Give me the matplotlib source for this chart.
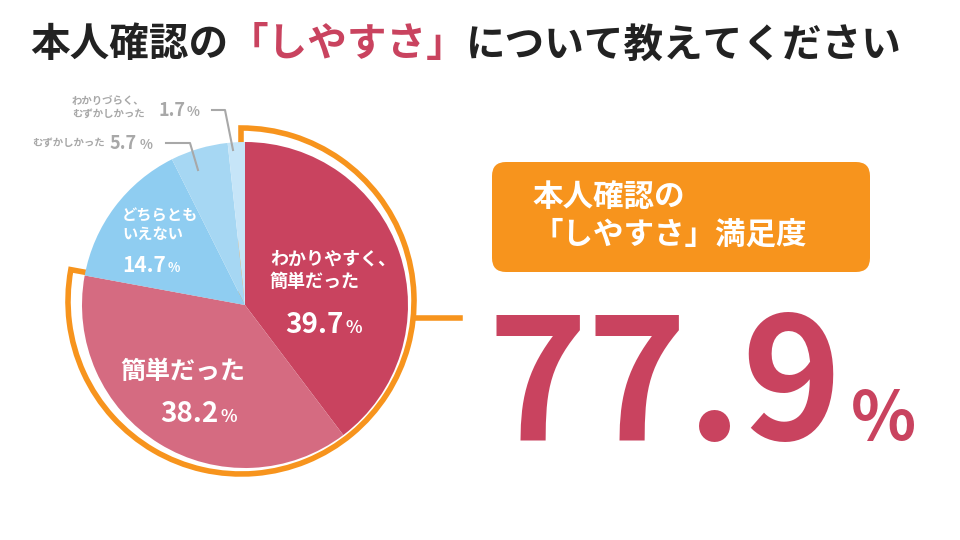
import matplotlib
matplotlib.use("Agg")
import matplotlib.pyplot as plt
from matplotlib.patches import Wedge, FancyBboxPatch

plt.rcParams["font.family"] = ["Noto Sans CJK JP", "DejaVu Sans"]

RED = "#C9435F"
PINK = "#D56B81"
ORANGE = "#F7941D"
GRAY = "#A8A8A8"

labels = ["わかりやすく、\n簡単だった", "簡単だった", "どちらとも\nいえない", "むずかしかった", "わかりづらく、\nむずかしかった"]
values = [39.7, 38.2, 14.7, 5.7, 1.7]
colors = [RED, PINK, "#8FCDF1", "#A6D7F3", "#C6E5F8"]
satisfaction = "77.9"

fig = plt.figure(figsize=(9.6, 5.4), dpi=100)
ax = fig.add_axes([0, 0, 1, 1])
H = 540
cx, cy, r = 245, H - 305, 163

sat = values[0] + values[1]
ax.add_patch(Wedge((cx - 4, cy + 4), r + 10, 90 - 3.6 * sat, 90, facecolor="white",
                   edgecolor=ORANGE, linewidth=4, zorder=1))
ax.pie(values, colors=colors, startangle=90, counterclock=False, center=(cx, cy), radius=r,
       wedgeprops=dict(linewidth=0), frame=True)
ax.set_xlim(0, 960)
ax.set_ylim(0, 540)
ax.axis("off")
ax.plot([cx + r + 6, 460], [H - 318, H - 318], color=ORANGE, lw=4, zorder=0)

fig.canvas.draw()
renderer = fig.canvas.get_renderer()


def pct(x, y, num, size, col, gap=2, ratio=0.62):
    t = ax.text(x, y, num, color=col, fontsize=size, fontweight="bold", va="baseline")
    w = t.get_window_extent(renderer).width
    ax.text(x + w + gap, y, "%", color=col, fontsize=size * ratio, fontweight="bold", va="baseline")
    return x + w


# slice labels
ax.text(270, H - 270, labels[0], color="white", fontsize=13, fontweight="bold", va="center", linespacing=1.2)
pct(285, H - 333, f"{values[0]}", 20, "white")
ax.text(120, H - 372, labels[1], color="white", fontsize=18, fontweight="bold", va="center")
pct(160, H - 422, f"{values[1]}", 20, "white")
ax.text(122, H - 225, labels[2], color="white", fontsize=11, fontweight="bold", va="center", linespacing=1.2)
pct(122, H - 272, f"{values[2]}", 15, "white")

# outside labels
ax.text(32, H - 143, labels[3], color=GRAY, fontsize=7.5, fontweight="bold", va="center")
pct(110, H - 149, f"{values[3]}", 13, GRAY, ratio=0.75)
ax.plot([166, 190, 198], [H - 143, H - 143, H - 170], color=GRAY, lw=1.5)
ax.text(72, H - 108, labels[4], color=GRAY, fontsize=7.5, fontweight="bold", va="center", linespacing=1.2)
pct(158, H - 116, f"{values[4]}", 13, GRAY, ratio=0.75)
ax.plot([212, 225, 233], [H - 110, H - 110, H - 150], color=GRAY, lw=1.5)

# orange box
ax.add_patch(FancyBboxPatch((492, H - 272), 378, 110, boxstyle="round,pad=0,rounding_size=14",
                            facecolor=ORANGE, edgecolor="none"))
ax.text(532, H - 216, "本人確認の\n「しやすさ」満足度", color="white", fontsize=22, fontweight="bold",
        va="center", linespacing=1.25)

# big number
pct(488, H - 440, satisfaction, 122, RED, gap=8, ratio=0.4)

# title with coloured segment
x = 30
for part, col in [("本人確認の", "#222222"), ("「しやすさ」", RED), ("について教えてください", "#222222")]:
    t = ax.text(x, H - 45, part, color=col, fontsize=28.5, fontweight="bold", va="center")
    x += t.get_window_extent(renderer).width

fig.savefig("out.png", dpi=100)
